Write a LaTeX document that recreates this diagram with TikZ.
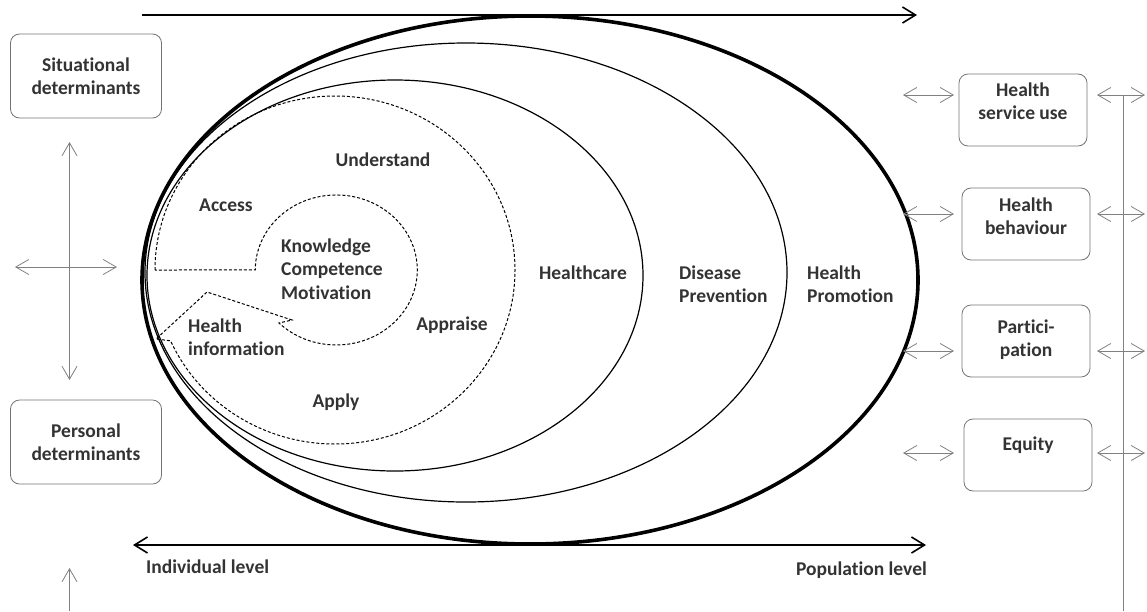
\documentclass[tikz,border=0pt]{standalone}
\usepackage{fontspec}
\setmainfont[Ligatures=NoCommon,Contextuals=NoAlternate]{Carlito}
\usepackage{tikz}
\usetikzlibrary{arrows.meta,shapes}
\tikzstyle{box}=[draw=black!55,line width=0.8pt,rounded corners=9pt,minimum width=151pt,minimum height=84pt,align=center,inner sep=0pt]
\tikzstyle{rbox}=[box,minimum width=128pt,minimum height=72pt]
\tikzstyle{lbl}=[inner sep=0pt,align=left]
\tikzstyle{dbl}=[draw=black!50,line width=0.8pt,{Straight Barb[length=13pt,width=15pt]}-{Straight Barb[length=13pt,width=15pt]}]

\begin{document}
\begin{tikzpicture}[x=1pt,y=-1pt,every node/.style={font=\bfseries\fontsize{19.5}{23.5}\selectfont,text=black!80}]
        \tikzset{level/.style = {draw,line width=1.6pt,>={Straight Barb[length=13pt,width=16pt]}},
                 ring/.style = {draw,line width=1.2pt},
                 dashring/.style = {draw,line width=1pt,dash pattern=on 3pt off 2pt}}
        \useasboundingbox (0,0) rectangle (1147,611);
        % levels
        \coordinate (topL) at (142,15);
        \coordinate (topR) at (917,15);
        \coordinate (botL) at (133,545);
        \coordinate (botR) at (926,545);
        \draw[level,->] (topL) to (topR);
        \draw[level,<->] (botL) to (botR);
        \node[lbl,anchor=west] (indiv) at (146,567) {Individual level};
        \node[lbl,anchor=east] (popul) at (927,570) {Population level};
        % nested areas
        \draw[ring,line width=3.6pt] (530,280) ellipse [x radius=388pt, y radius=264pt];
        \draw[ring] (466,272.5) ellipse [x radius=321pt, y radius=229.5pt];
        \draw[ring] (395,275.5) ellipse [x radius=248pt, y radius=195.5pt];
        \draw[dashring] (155,270) arc [start angle=180, end angle=-156, x radius=180pt, y radius=174pt]
              -- (156,339) -- (207,292) -- (292,320) -- (279,323)
              arc [start angle=225, end angle=540, x radius=81pt, y radius=75pt] -- cycle;
        \node (underst) at (383,160) {Understand};
        \node (access) at (226,205) {Access};
        \node[lbl,anchor=west] (kcm) at (281,269) {Knowledge\\Competence\\Motivation};
        \node[lbl,anchor=west] (hinfo) at (188,337) {Health\\information};
        \node (appraise) at (452,325) {Appraise};
        \node (apply) at (336,402) {Apply};
        \node (hcare) at (583,273) {Healthcare};
        \node[lbl,anchor=west] (dprev) at (679,284) {Disease\\Prevention};
        \node[lbl,anchor=west] (hprom) at (807,284) {Health\\Promotion};
        % determinants
        \node[box] (sit) at (86,76) {Situational\\determinants};
        \node[box] (pers) at (86,442) {Personal\\determinants};
        \coordinate (vUp) at (69.5,142);
        \coordinate (vDown) at (69.5,380);
        \coordinate (hLeft) at (15,267);
        \coordinate (hRight) at (117,267);
        \coordinate (uFoot) at (69.5,611);
        \coordinate (uTip) at (69.5,568);
        \draw[dbl] (vUp) to (vDown);
        \draw[dbl] (hLeft) to (hRight);
        \draw[draw=black!50,line width=0.8pt,-{Straight Barb[length=13pt,width=15pt]}] (uFoot) to (uTip);
        % outcomes (trailing empty line lifts the text a little)
        \node[rbox] (hsu) at (1023,110) {Health\\service use\\[-5.5pt]\mbox{}};
        \node[rbox] (behav) at (1026,224) {Health\\behaviour\\[-7.5pt]\mbox{}};
        \node[rbox] (partic) at (1026,341) {Partici-\\pation\\[-17.5pt]\mbox{}};
        \node[rbox] (equity) at (1028,455) {Equity\\\mbox{}};
        \coordinate (railTop) at (1123,95);
        \coordinate (railFoot) at (1123,611);
        \draw[draw=black!50,line width=0.8pt] (railTop) to (railFoot);
        \foreach \n/\y in {hsu/95,behav/214,partic/351,equity/453} {
          \coordinate (\n A) at (903,\y);
          \coordinate (\n B) at (954,\y);
          \coordinate (\n C) at (1097,\y);
          \coordinate (\n D) at (1145,\y);
          \draw[dbl] (\n A) to (\n B);
          \draw[dbl] (\n C) to (\n D);
        }
      \end{tikzpicture}
\end{document}
